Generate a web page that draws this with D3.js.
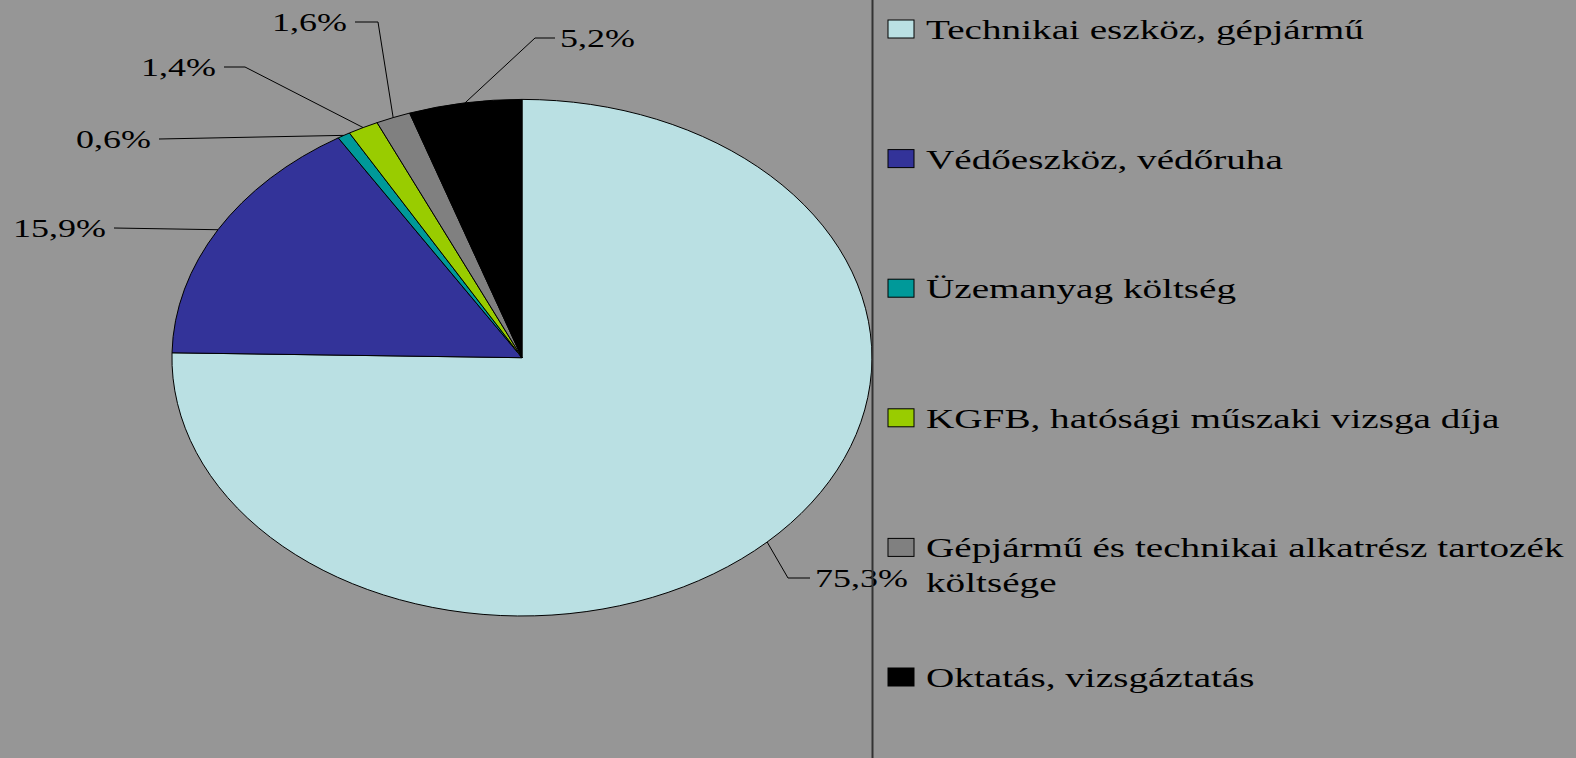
<!DOCTYPE html>
<html>
<head>
<meta charset="utf-8">
<script src="https://cdn.jsdelivr.net/npm/d3@7"></script>
<style>
  html, body { margin: 0; padding: 0; background: #969696; }
  svg { display: block; }
</style>
</head>
<body>
<div id="chart"></div>
<script>
var categories = ["Technikai eszköz, gépjármű", "Védőeszköz, védőruha", "Üzemanyag költség",
                  "KGFB, hatósági műszaki vizsga díja", "Gépjármű és technikai alkatrész tartozék költsége",
                  "Oktatás, vizsgáztatás"];
var shares = [75.3, 15.9, 0.6, 1.4, 1.6, 5.2];
var pctLabels = ["75,3%", "15,9%", "0,6%", "1,4%", "1,6%", "5,2%"];
var colors = ["#bae0e3", "#333399", "#009999", "#99cc00", "#808080", "#000000"];

// layout of the leader lines (elbow, then end point near the text)
var labelElbow = [[788, 578], [114, 228], [159, 139], [245, 67], [378, 22], [535, 38]];
var labelEnd   = [[810, 578], [114, 228], [159, 139], [224, 67], [355, 22], [555, 38]];

var width = 1576, height = 758;
var cx = 522, cy = 357.7, rx = 350, ry = 258.3;
var stretch = 1.44;       // the original is stretched horizontally
var legendStretch = 1.40;

var svg = d3.select("#chart").append("svg")
    .attr("width", width)
    .attr("height", height);

svg.append("rect")
    .attr("width", width)
    .attr("height", height)
    .attr("fill", "#969696");

var pie = d3.pie().sort(null).value(function(d) { return d; });
var arcs = pie(shares);

var arc = d3.arc().innerRadius(0).outerRadius(1);

// unit circle pie scaled into an ellipse
svg.append("g")
    .attr("transform", "translate(" + cx + "," + cy + ") scale(" + rx + "," + ry + ")")
    .selectAll("path")
    .data(arcs)
    .enter().append("path")
    .attr("d", arc)
    .attr("fill", function(d, i) { return colors[i]; })
    .attr("stroke", "#000")
    .attr("stroke-width", 1)
    .attr("vector-effect", "non-scaling-stroke");

function edgePoint(d) {
    var a = (d.startAngle + d.endAngle) / 2;
    return [cx + rx * Math.sin(a), cy - ry * Math.cos(a)];
}

var labels = svg.append("g").attr("class", "labels");

arcs.forEach(function(d, i) {
    var p = edgePoint(d);
    var pts = [p, labelElbow[i], labelEnd[i]];
    labels.append("path")
        .attr("d", d3.line()(pts))
        .attr("fill", "none")
        .attr("stroke", "#000")
        .attr("stroke-width", 1);

    var right = labelEnd[i][0] > p[0];
    var tx = labelEnd[i][0] + (right ? 5 : -8);
    labels.append("text")
        .attr("transform", "translate(" + tx + "," + (labelEnd[i][1] + 9) + ") scale(" + stretch + ",1)")
        .attr("text-anchor", right ? "start" : "end")
        .attr("font-family", "'Liberation Serif', 'Times New Roman', serif")
        .attr("font-size", "25px")
        .attr("fill", "#000")
        .text(pctLabels[i]);
});

// legend
var legendTop = 29, legendStep = 129.6;
var legend = svg.append("g").attr("class", "legend");

var items = legend.selectAll(".item")
    .data(categories)
    .enter().append("g")
    .attr("class", "item")
    .attr("transform", function(d, i) { return "translate(0," + (legendTop + i * legendStep) + ")"; });

items.append("rect")
    .attr("x", 888)
    .attr("y", -9)
    .attr("width", 26)
    .attr("height", 18)
    .attr("fill", function(d, i) { return colors[i]; })
    .attr("stroke", "#000")
    .attr("stroke-width", 1);

var maxTextW = (width - 926 - 2) / legendStretch;

items.each(function(d) {
    var t = d3.select(this).append("text")
        .attr("transform", "translate(926,10) scale(" + legendStretch + ",1)")
        .attr("font-family", "'Liberation Serif', 'Times New Roman', serif")
        .attr("font-size", "28px")
        .attr("fill", "#000");
    var words = d.split(" ");
    var line = [];
    var lineNo = 0;
    var tspan = t.append("tspan").attr("x", 0).attr("y", 0);
    words.forEach(function(w) {
        line.push(w);
        tspan.text(line.join(" "));
        if (tspan.node().getComputedTextLength() > maxTextW && line.length > 1) {
            line.pop();
            tspan.text(line.join(" "));
            line = [w];
            lineNo++;
            tspan = t.append("tspan").attr("x", 0).attr("y", lineNo * 35).text(w);
        }
    });
    // keep the long label inside the page: tighten it if needed
    t.selectAll("tspan").each(function() {
        var len = this.getComputedTextLength();
        if (len > maxTextW) {
            d3.select(this).attr("textLength", maxTextW).attr("lengthAdjust", "spacingAndGlyphs");
        }
    });
});

// divider between the plot and the legend
svg.append("line")
    .attr("x1", 872.5).attr("x2", 872.5)
    .attr("y1", 0).attr("y2", height)
    .attr("stroke", "#333")
    .attr("stroke-width", 2);
</script>
</body>
</html>
